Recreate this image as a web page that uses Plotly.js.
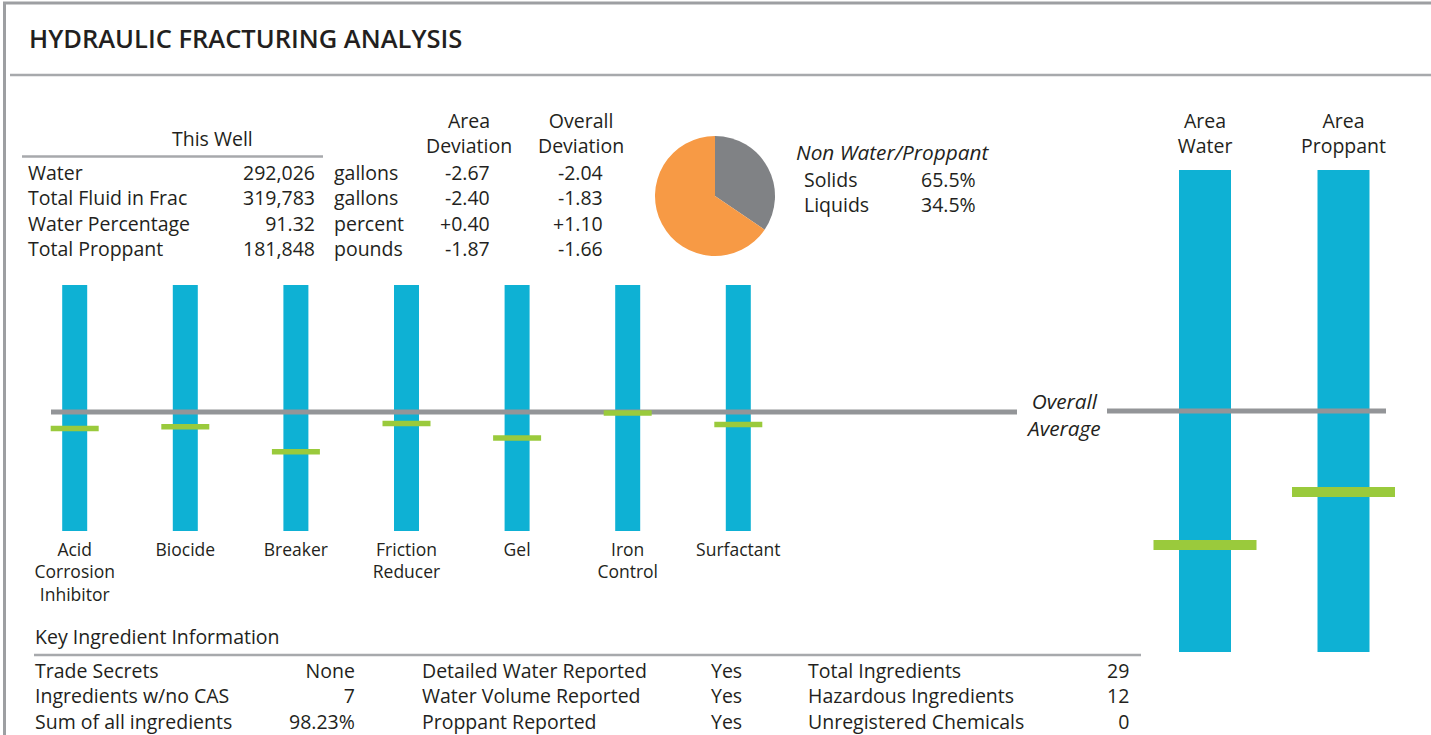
<!DOCTYPE html>
<html>
<head>
<meta charset="utf-8">
<script src="https://cdn.plot.ly/plotly-3.0.1.min.js"></script>
<style>html,body{margin:0;padding:0;background:#fff;}#chart{width:1431px;height:735px;}</style>
</head>
<body>
<div id="chart"></div>
<script>
// ---------------- DATA ----------------
const chartTitle = 'HYDRAULIC FRACTURING ANALYSIS';

const wellLabels = ['Water', 'Total Fluid in Frac', 'Water Percentage', 'Total Proppant'];
const wellValues = [292026, 319783, 91.32, 181848];
const wellUnits = ['gallons', 'gallons', 'percent', 'pounds'];
const areaDeviation = [-2.67, -2.40, 0.40, -1.87];
const overallDeviation = [-2.04, -1.83, 1.10, -1.66];

const pieLabels = ['Solids', 'Liquids'];
const pieValues = [65.5, 34.5];

const ingredientCategories = ['Acid<br>Corrosion<br>Inhibitor', 'Biocide', 'Breaker', 'Friction<br>Reducer', 'Gel', 'Iron<br>Control', 'Surfactant'];
const ingredientRangeLow = [-2.9, -2.9, -2.9, -2.9, -2.9, -2.9, -2.9];
const ingredientRangeHigh = [3.1, 3.1, 3.1, 3.1, 3.1, 3.1, 3.1];
const ingredientThisWell = [-0.40, -0.355, -0.965, -0.28, -0.63, -0.02, -0.305];

const areaCategories = ['Area<br>Water', 'Area<br>Proppant'];
const areaRangeLow = [-3, -3];
const areaRangeHigh = [3, 3];
const areaThisWell = [-1.668, -1.008];

const overallAverage = 0;

const keyLabels1 = ['Trade Secrets', 'Ingredients w/no CAS', 'Sum of all ingredients'];
const keyValues1 = ['None', '7', '98.23%'];
const keyLabels2 = ['Detailed Water Reported', 'Water Volume Reported', 'Proppant Reported'];
const keyValues2 = ['Yes', 'Yes', 'Yes'];
const keyLabels3 = ['Total Ingredients', 'Hazardous Ingredients', 'Unregistered Chemicals'];
const keyValues3 = [29, 12, 0];

// ---------------- STYLE / LAYOUT HELPERS ----------------
const W = 1431, H = 735;
const px = x => x / W;
const py = y => 1 - y / H;
const FONT = 'Open Sans, Noto Sans, sans-serif';
const TXT = '#231f20';
const BLUE = '#0eb1d4';
const GREEN = '#9aca3c';
const LINEGRAY = '#939598';
const RULE = '#a7a9ac';
const FS = 19.5;
const FS_IT = 20.8;
const FS_TICK = 17.5;

const fmtNum = v => Number.isInteger(v) ? v.toLocaleString('en-US') : v.toFixed(2);
const fmtDev = v => (v > 0 ? '+' : '') + v.toFixed(2);
const lines = arr => arr.map(String).join('<br>');

// small chart x mapping (category pitch in px)
const sPitch = 110.6, sFirst = 74.7, sLeft = 51, sRight = 1017;
const sRange = [(sLeft - sFirst) / sPitch, (sRight - sFirst) / sPitch];
const bPitch = 138.5, bFirst = 1205, bLeft = 1107, bRight = 1386;
const bRange = [(bLeft - bFirst) / bPitch, (bRight - bFirst) / bPitch];

const sIdx = ingredientCategories.map((_, i) => i);
const bIdx = areaCategories.map((_, i) => i);

// pie drawn with liquids first so the grey wedge starts at 12 o'clock going clockwise
const pieOrder = [1, 0];

const traces = [
  {
    type: 'bar', x: sIdx, base: ingredientRangeLow,
    y: ingredientRangeHigh.map((h, i) => h - ingredientRangeLow[i]),
    width: 25 / sPitch, marker: {color: BLUE, line: {width: 0}},
    xaxis: 'x', yaxis: 'y', hoverinfo: 'skip', showlegend: false
  },
  {
    type: 'scatter', mode: 'lines', x: sRange, y: [overallAverage, overallAverage],
    line: {color: LINEGRAY, width: 5}, xaxis: 'x', yaxis: 'y', hoverinfo: 'skip', showlegend: false
  },
  {
    type: 'scatter', mode: 'markers', x: sIdx, y: ingredientThisWell,
    marker: {symbol: 'line-ew', size: 48 / 1.4, line: {color: GREEN, width: 5.5}},
    cliponaxis: false, xaxis: 'x', yaxis: 'y', hoverinfo: 'skip', showlegend: false
  },
  {
    type: 'bar', x: bIdx, base: areaRangeLow,
    y: areaRangeHigh.map((h, i) => h - areaRangeLow[i]),
    width: 52 / bPitch, marker: {color: BLUE, line: {width: 0}},
    xaxis: 'x2', yaxis: 'y2', hoverinfo: 'skip', showlegend: false
  },
  {
    type: 'scatter', mode: 'lines', x: bRange, y: [overallAverage, overallAverage],
    line: {color: LINEGRAY, width: 5}, xaxis: 'x2', yaxis: 'y2', hoverinfo: 'skip', showlegend: false
  },
  {
    type: 'scatter', mode: 'markers', x: bIdx, y: areaThisWell,
    marker: {symbol: 'line-ew', size: 103 / 1.4, line: {color: GREEN, width: 10}},
    cliponaxis: false, xaxis: 'x2', yaxis: 'y2', hoverinfo: 'skip', showlegend: false
  },
  {
    type: 'pie', labels: pieOrder.map(i => pieLabels[i]), values: pieOrder.map(i => pieValues[i]),
    sort: false, direction: 'clockwise',
    marker: {colors: ['#808285', '#f79a45'], line: {width: 0}},
    textinfo: 'none', hoverinfo: 'skip', showlegend: false,
    domain: {x: [px(655), px(775)], y: [py(256), py(136)]}
  }
];

const annotations = [];
function ann(text, x, y, xanchor, extra) {
  annotations.push(Object.assign({
    text: text, x: px(x), y: py(y), xref: 'paper', yref: 'paper',
    xanchor: xanchor, yanchor: 'middle', align: xanchor, showarrow: false,
    font: {family: FONT, size: FS, color: TXT}
  }, extra || {}));
}

ann(chartTitle, 27, 38, 'left', {font: {family: FONT, size: 25.5, color: TXT, weight: 600}});

ann('This Well', 212, 138, 'center');
ann('Area<br>Deviation', 469, 133, 'center');
ann('Overall<br>Deviation', 581, 133, 'center');
const topMid = 210;
ann(lines(wellLabels), 26, topMid, 'left');
ann(lines(wellValues.map(fmtNum)), 317, topMid, 'right');
ann(lines(wellUnits), 332, topMid, 'left');
ann(lines(areaDeviation.map(fmtDev)), 492, topMid, 'right');
ann(lines(overallDeviation.map(fmtDev)), 605, topMid, 'right');

ann('<i>Non Water/Proppant</i>', 794, 152, 'left', {font: {family: FONT, size: FS_IT, color: TXT}});
ann(lines(pieLabels), 802, 192.5, 'left');
ann(lines(pieValues.map(v => v.toFixed(1) + '%')), 978, 192.5, 'right');

ann('<i>Overall<br>Average</i>', 1063, 414, 'center', {font: {family: FONT, size: FS_IT, color: TXT}});

ann('Key Ingredient Information', 33, 636, 'left');
const keyMid = 696;
ann(lines(keyLabels1), 33, keyMid, 'left');
ann(lines(keyValues1), 357, keyMid, 'right');
ann(lines(keyLabels2), 420, keyMid, 'left');
ann(lines(keyValues2), 744, keyMid, 'right');
ann(lines(keyLabels3), 806, keyMid, 'left');
ann(lines(keyValues3), 1131, keyMid, 'right');

const shapes = [
  // outer frame
  {type: 'line', xref: 'paper', yref: 'paper', x0: px(4.5), x1: px(4.5), y0: py(2), y1: 0, line: {color: '#9d9fa2', width: 3}},
  {type: 'line', xref: 'paper', yref: 'paper', x0: px(3), x1: 1, y0: py(3), y1: py(3), line: {color: '#9d9fa2', width: 3}},
  // title divider
  {type: 'line', xref: 'paper', yref: 'paper', x0: px(10), x1: 1, y0: py(75), y1: py(75), line: {color: RULE, width: 2.5}},
  // This Well rule
  {type: 'line', xref: 'paper', yref: 'paper', x0: px(22), x1: px(323), y0: py(156.5), y1: py(156.5), line: {color: RULE, width: 2.5}},
  // Key ingredient rule
  {type: 'line', xref: 'paper', yref: 'paper', x0: px(34), x1: px(1141), y0: py(655), y1: py(655), line: {color: RULE, width: 2.5}}
];

const layout = {
  width: W, height: H,
  margin: {l: 0, r: 0, t: 0, b: 0},
  paper_bgcolor: '#ffffff', plot_bgcolor: 'rgba(0,0,0,0)',
  barmode: 'overlay', showlegend: false,
  font: {family: FONT, size: FS, color: TXT},
  xaxis: {
    domain: [px(sLeft), px(sRight)], range: sRange, type: 'linear',
    tickvals: sIdx, ticktext: ingredientCategories,
    showgrid: false, zeroline: false, showline: false, ticks: '',
    ticklabelstandoff: 6,
    tickfont: {family: FONT, size: FS_TICK, color: TXT}, fixedrange: true, anchor: 'y'
  },
  yaxis: {
    domain: [py(531), py(285)], range: [-2.9, 3.1], visible: false, fixedrange: true, anchor: 'x'
  },
  xaxis2: {
    domain: [px(bLeft), px(bRight)], range: bRange, type: 'linear', side: 'top',
    tickvals: bIdx, ticktext: areaCategories,
    showgrid: false, zeroline: false, showline: false, ticks: '',
    ticklabelstandoff: 12,
    tickfont: {family: FONT, size: FS, color: TXT}, fixedrange: true, anchor: 'y2'
  },
  yaxis2: {
    domain: [py(652), py(170)], range: [-3, 3], visible: false, fixedrange: true, anchor: 'x2'
  },
  annotations: annotations,
  shapes: shapes
};

Plotly.newPlot('chart', traces, layout, {displayModeBar: false, staticPlot: true});
</script>
</body>
</html>
